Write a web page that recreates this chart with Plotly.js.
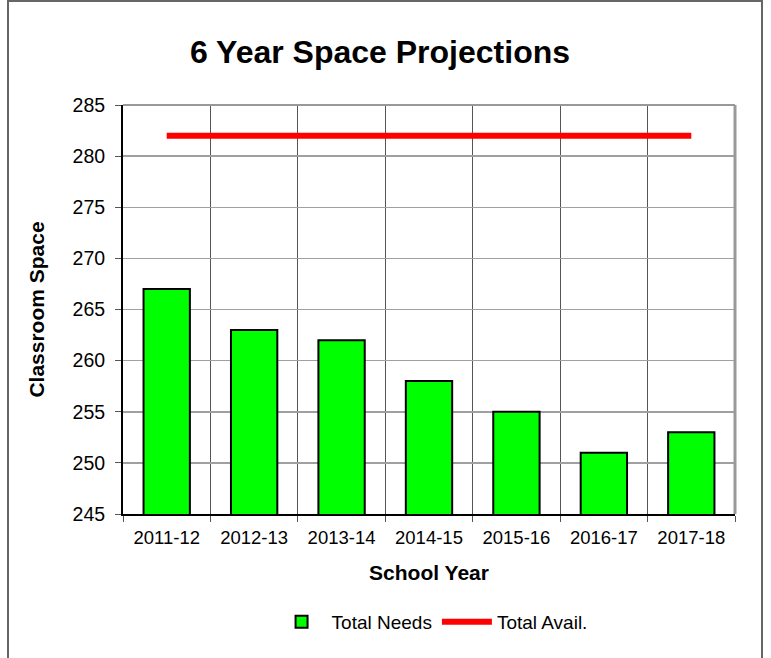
<!DOCTYPE html>
<html>
<head>
<meta charset="utf-8">
<script src="https://cdn.plot.ly/plotly-3.0.1.min.js"></script>
<style>
  html, body { margin: 0; padding: 0; background: #fff; }
  #frame { position: absolute; left: 7px; top: 0px; width: 756px; height: 700px; border: 2px solid #666; box-sizing: border-box; }
  #chart { position: absolute; left: 0; top: 0; width: 771px; height: 658px; }
</style>
</head>
<body>
<div id="frame"></div>
<div id="chart"></div>
<script>
const years = ["2011-12", "2012-13", "2013-14", "2014-15", "2015-16", "2016-17", "2017-18"];
const totalNeeds = [267, 263, 262, 258, 255, 251, 253];
const totalAvail = [282, 282, 282, 282, 282, 282, 282];
const yTicks = [245, 250, 255, 260, 265, 270, 275, 280, 285];

const font = "Liberation Sans, Arial, sans-serif";

const traces = [
  {
    type: "bar",
    name: "Total Needs",
    x: years,
    y: totalNeeds,
    marker: { color: "#00ff00", line: { color: "#000", width: 2 } }
  },
  {
    type: "scatter",
    mode: "lines",
    name: "Total Avail.",
    x: years,
    y: totalAvail,
    line: { color: "#ff0000", width: 6 }
  }
];

const layout = {
  width: 771,
  height: 658,
  margin: { l: 123, r: 36, t: 105, b: 144 },
  paper_bgcolor: "rgba(0,0,0,0)",
  plot_bgcolor: "#fff",
  font: { family: font, color: "#000", size: 18 },
  title: {
    text: "<b>6 Year Space Projections</b>",
    font: { family: font, size: 32, color: "#000" },
    x: 380 / 771, xanchor: "center",
    y: 1 - 52 / 658, yanchor: "middle"
  },
  bargap: 0.47,
  showlegend: true,
  legend: {
    orientation: "h",
    x: 0.505, xanchor: "center",
    y: -0.264, yanchor: "middle",
    font: { family: font, size: 19 },
    itemwidth: 50,
    bgcolor: "rgba(0,0,0,0)"
  },
  xaxis: {
    type: "category",
    tickson: "boundaries",
    ticks: "outside",
    ticklen: 6,
    tickcolor: "#555",
    showgrid: true,
    gridcolor: "#555",
    gridwidth: 1,
    showline: true,
    linecolor: "#000",
    linewidth: 2,
    ticklabelstandoff: 6,
    tickfont: { family: font, size: 18.5 },
    title: { text: "<b>School Year</b>", font: { family: font, size: 21 }, standoff: 18 }
  },
  yaxis: {
    range: [245, 285],
    tickvals: yTicks,
    ticktext: yTicks.map(String),
    ticks: "outside",
    ticklen: 6,
    tickcolor: "#555",
    showgrid: true,
    gridcolor: "#a0a0a0",
    gridwidth: 1.5,
    showline: true,
    linecolor: "#000",
    linewidth: 2,
    zeroline: false,
    ticklabelstandoff: 6,
    tickfont: { family: font, size: 19.5 },
    title: { text: "<b>Classroom Space</b>", font: { family: font, size: 21 }, standoff: 22 }
  },
  shapes: [
    { type: "line", xref: "paper", yref: "paper", x0: 0, x1: 1, y0: 1, y1: 1, line: { color: "#999", width: 2 } },
    { type: "line", xref: "paper", yref: "paper", x0: 1, x1: 1, y0: 0, y1: 1, line: { color: "#999", width: 3 } }
  ]
};

Plotly.newPlot("chart", traces, layout, { displayModeBar: false, staticPlot: true });
</script>
</body>
</html>
